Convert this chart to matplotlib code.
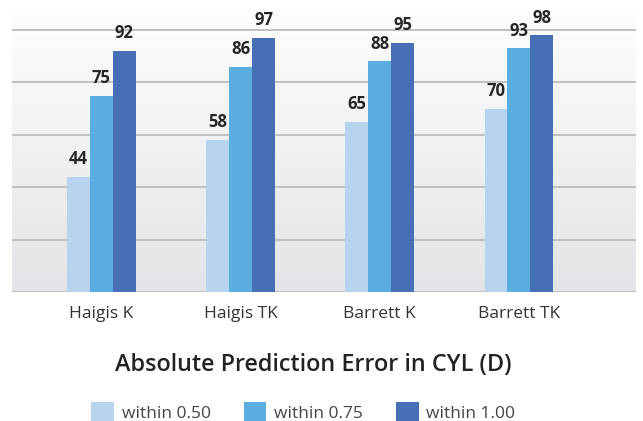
import numpy as np
import matplotlib
matplotlib.use("Agg")
import matplotlib.pyplot as plt
from matplotlib.colors import LinearSegmentedColormap
from matplotlib.patches import Patch

plt.rcParams["font.family"] = ["Open Sans", "DejaVu Sans"]

categories = ["Haigis K", "Haigis TK", "Barrett K", "Barrett TK"]
series_names = ["within 0.50", "within 0.75", "within 1.00"]
within_050 = [44, 58, 65, 70]
within_075 = [75, 86, 88, 93]
within_100 = [92, 97, 95, 98]
colors = ["#B8D3EE", "#5BADE0", "#466FB5"]

fig = plt.figure(figsize=(6.43, 4.21), dpi=100)
ax = fig.add_axes([0.019, 0.306, 0.970, 0.660])

# soft vertical gradient behind the bars
grad = LinearSegmentedColormap.from_list("bg", ["#E2E4E7", "#FCFDFD"])
ax.imshow(np.linspace(0, 1, 256).reshape(-1, 1)[::-1], cmap=grad, aspect="auto",
          extent=[0, 1, 0, 1], transform=ax.transAxes, zorder=0)

x = np.arange(len(categories))
w = 0.165
for i, (vals, col) in enumerate(zip([within_050, within_075, within_100], colors)):
    bars = ax.bar(x + (i - 1) * w, vals, w, color=col, zorder=3, label=series_names[i])
    for b, v in zip(bars, vals):
        ax.text(b.get_x() + b.get_width() / 2, v + 3.3, str(v), ha="center", va="bottom",
                fontsize=12, fontweight="bold", color="#262626", zorder=4)

ax.set_xlim(-0.64, 3.84)
ax.set_ylim(0, 106)
for yv in range(0, 101, 20):
    ax.axhline(yv, color="#BEC0C3", lw=1.4, zorder=1)

ax.set_xticks(x)
ax.set_xticklabels(categories, fontsize=12.5, color="#333333")
ax.tick_params(axis="x", length=0, pad=10)
ax.set_yticks([])
for s in ax.spines.values():
    s.set_visible(False)

fig.text(0.488, 0.133, "Absolute Prediction Error in CYL (D)", ha="center", va="center",
         fontsize=16.8, fontweight="semibold", color="#222222")

handles = [Patch(facecolor=c, edgecolor="none") for c in colors]
fig.legend(handles, series_names, loc="center", bbox_to_anchor=(0.472, 0.022), ncol=3,
           frameon=False, fontsize=12.5, handlelength=1.3, handleheight=1.4,
           columnspacing=1.9, handletextpad=0.45, labelcolor="#444444")

fig.savefig("out.png", dpi=100)
